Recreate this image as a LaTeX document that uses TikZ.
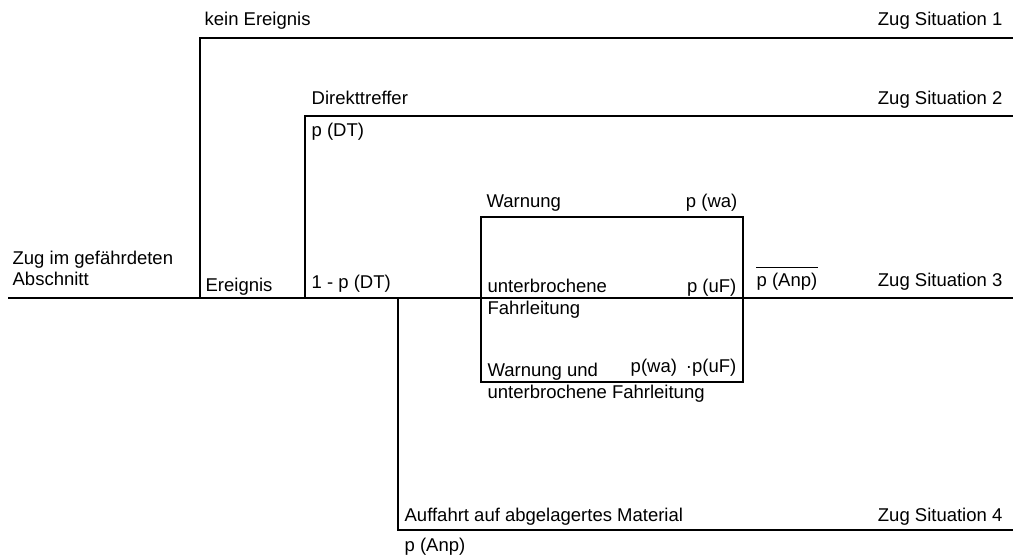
\documentclass[tikz,border=0pt]{standalone}
\usepackage{fontspec}
\setmainfont{Liberation Sans}
\begin{document}
\begin{tikzpicture}[x=1pt,y=-1pt,line width=1.3pt,
	lbl/.style={anchor=base west,inner sep=0pt,font=\fontsize{18.5}{22}\selectfont},
	rlbl/.style={lbl,anchor=base east}]
	\useasboundingbox (0,0) rectangle (1013,556);
	% Verzweigungspunkte
	\coordinate (zug) at (8,298);
	\coordinate (ende3) at (1013,298);
	\coordinate (ev) at (200,298);
	\coordinate (ev top) at (200,38);
	\coordinate (ende1) at (1013,38);
	\coordinate (dt) at (305,298);
	\coordinate (dt top) at (305,116);
	\coordinate (ende2) at (1013,116);
	\coordinate (anp) at (398,298);
	\coordinate (anp bot) at (398,530);
	\coordinate (ende4) at (1013,530);
	\coordinate (box nw) at (481,217);
	\coordinate (box se) at (743,382);
	% Aeste
	\draw (zug) -- (ende3);
	\draw (ev) -- (ev top) -- (ende1);
	\draw (dt) -- (dt top) -- (ende2);
	\draw (anp) -- (anp bot) -- (ende4);
	\draw (box nw) rectangle (box se);
	% Beschriftung
	\node[lbl] (start1) at (12,265) {Zug im gefährdeten};
	\node[lbl] (start2) at (12,286) {Abschnitt};
	\node[lbl] (ereignis) at (205,292) {Ereignis};
	\node[lbl] (kein) at (204,26) {kein Ereignis};
	\node[rlbl] (sit1) at (1003,26) {Zug Situation 1};
	\node[lbl] (direkt) at (311,105) {Direkttreffer};
	\node[rlbl] (sit2) at (1003,105) {Zug Situation 2};
	\node[lbl] (pdt) at (311,137) {p (DT)};
	\node[lbl] (npdt) at (311,289) {1 - p (DT)};
	\node[lbl] (warn) at (486,208) {Warnung};
	\node[rlbl] (pwa) at (738,208) {p (wa)};
	\node[lbl] (unt1) at (487,293) {unterbrochene};
	\node[lbl] (unt2) at (487,315) {Fahrleitung};
	\node[rlbl] (puf) at (737,293) {p (uF)};
	\node[lbl] (npanp) at (756,287) {p (Anp)};
	\draw[line width=1.1pt] ([yshift=5pt]npanp.north west) -- ([yshift=5pt]npanp.north east);
	\node[rlbl] (sit3) at (1003,287) {Zug Situation 3};
	\node[lbl] (wu1) at (487,376) {Warnung und};
	\node[rlbl] (pwauf) at (737,373) {p(wa)\hspace{9pt}·p(uF)};
	\node[lbl] (wu2) at (487,398) {unterbrochene Fahrleitung};
	\node[lbl] (auff) at (404,521) {Auffahrt auf abgelagertes Material};
	\node[rlbl] (sit4) at (1003,521) {Zug Situation 4};
	\node[lbl] (panp) at (404,551) {p (Anp)};
\end{tikzpicture}
\end{document}
